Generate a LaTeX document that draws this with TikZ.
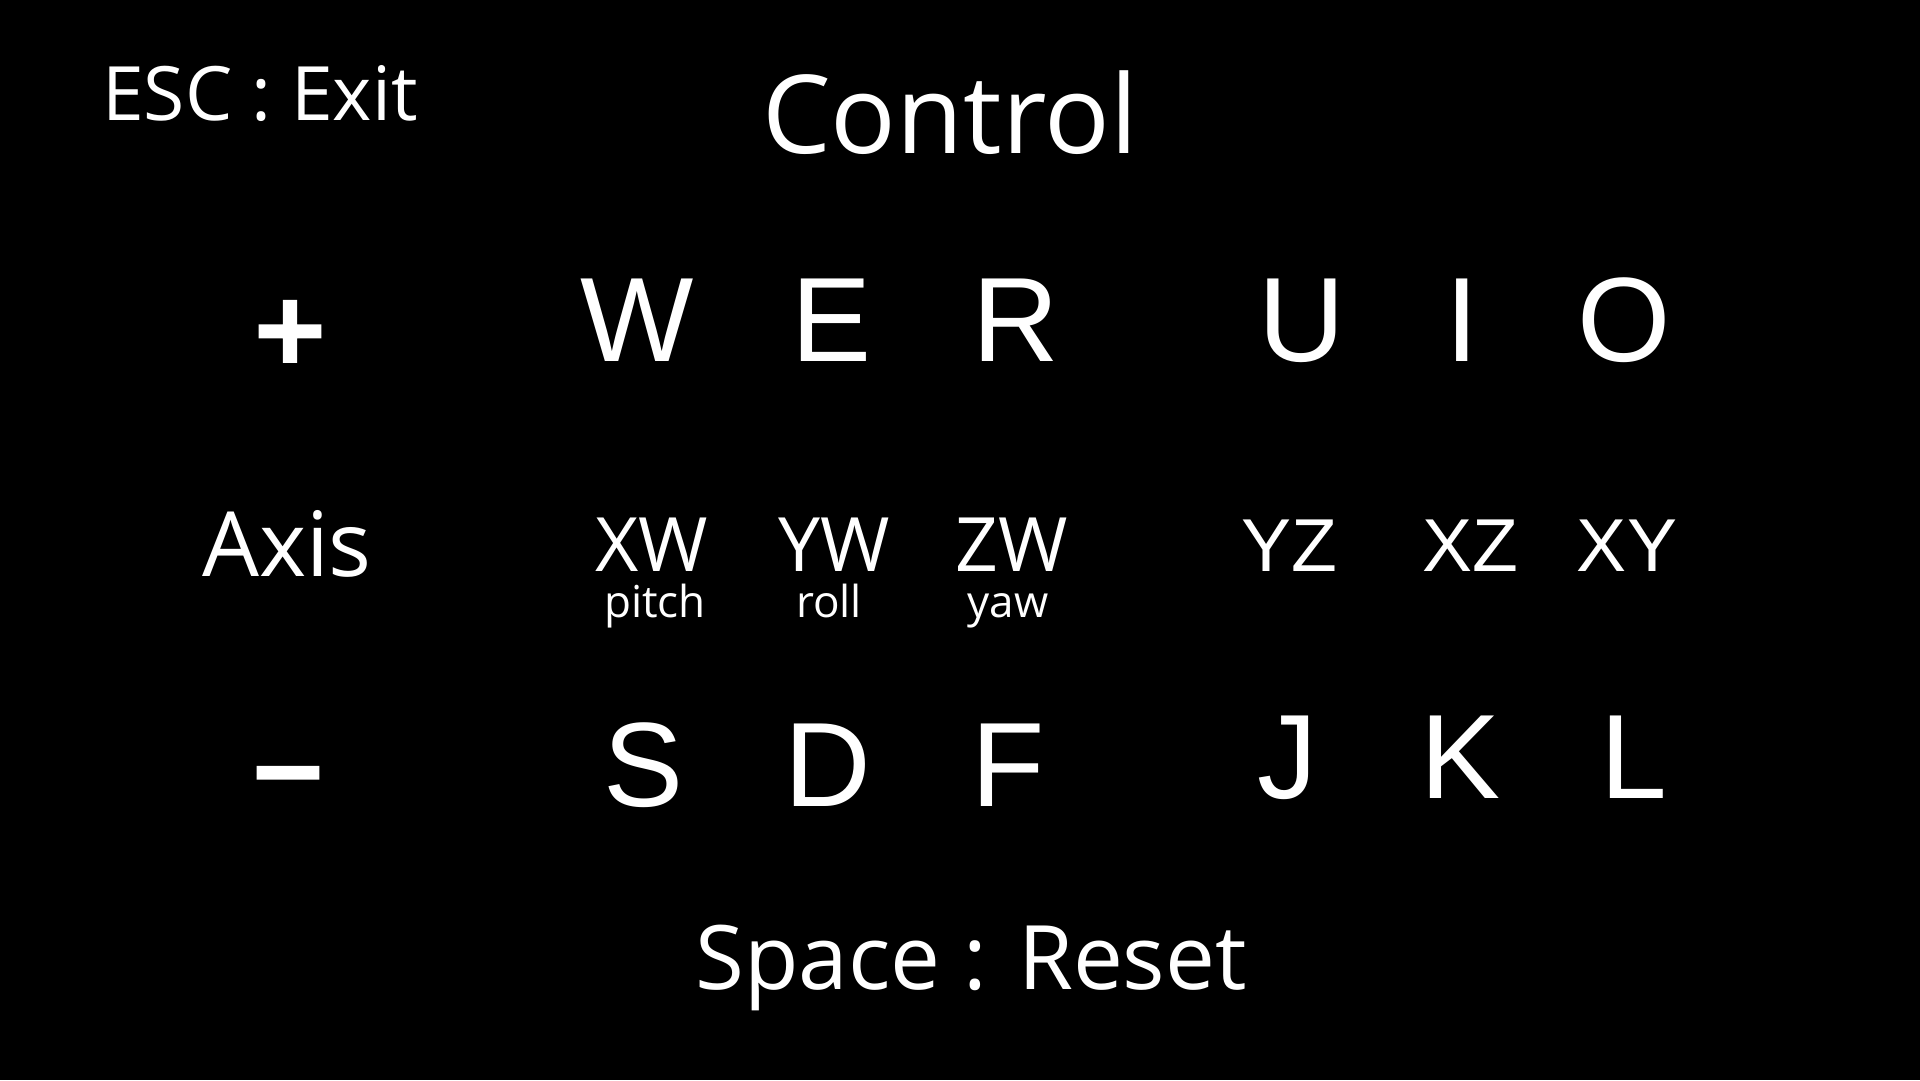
\documentclass[tikz,border=0pt]{standalone}
\usepackage{fontspec}
\setmainfont{Open Sans}
\newfontfamily\keyfont{Liberation Sans}
\newfontfamily\signfont[FakeBold=3]{DejaVu Sans Bold}

\begin{document}
\begin{tikzpicture}[x=1pt,y=-1pt,
        txt/.style={text=white,inner sep=0pt,anchor=base},
        keyletter/.style={txt,font=\keyfont\fontsize{120}{120}\selectfont},
        pairname/.style={txt,font=\fontsize{75}{75}\selectfont},
        pairkey/.style={txt,font=\keyfont\fontsize{75}{75}\selectfont},
        motion/.style={txt,font=\fontsize{44}{44}\selectfont},
        sign/.style={txt,anchor=north,font=\signfont\fontsize{96}{96}\selectfont}]
        \fill[black] (0,0) rectangle (1920,1080);
        \draw (950,153) node[txt,font=\fontsize{109}{109}\selectfont] (title) {Control};
        \draw (260,120) node[txt,font=\fontsize{75}{75}\selectfont] (esc) {ESC : Exit};
        \draw (290,301) node[sign] (plus) {+};
        \draw (287,576) node[txt,font=\fontsize{90}{90}\selectfont] (axis) {Axis};
        \draw (288,767) node[sign] (minus) {−};
        % upper keys
        \draw (637,361) node[keyletter] (W) {W};
        \draw (832,361) node[keyletter] (E) {E};
        \draw (1016,361) node[keyletter] (R) {R};
        \draw (1302,361) node[keyletter] (U) {U};
        \draw (1462,361) node[keyletter] (I) {I};
        \draw (1624,361) node[keyletter] (O) {O};
        % planes
        \draw (652,571) node[pairname] (XW) {XW};
        \draw (834,571) node[pairname] (YW) {YW};
        \draw (1012,571) node[pairname] (ZW) {ZW};
        \draw (1289,571) node[pairkey] (YZ) {YZ};
        \draw (1470,571) node[pairkey] (XZ) {XZ};
        \draw (1627,571) node[pairkey] (XY) {XY};
        \draw (655,617) node[motion] (pitch) {pitch};
        \draw (829,617) node[motion] (roll) {roll};
        \draw (1008,617) node[motion] (yaw) {yaw};
        % lower keys
        \draw (644,806) node[keyletter] (S) {S};
        \draw (828,806) node[keyletter] (D) {D};
        \draw (1008,806) node[keyletter] (F) {F};
        \draw (1287,798) node[keyletter] (J) {J};
        \draw (1461,798) node[keyletter] (K) {K};
        \draw (1634,798) node[keyletter] (L) {L};
        \draw (971,989) node[txt,font=\fontsize{89}{89}\selectfont] (reset) {Space : Reset};
        \useasboundingbox (0,0) rectangle (1920,1080);
\end{tikzpicture}
\end{document}
